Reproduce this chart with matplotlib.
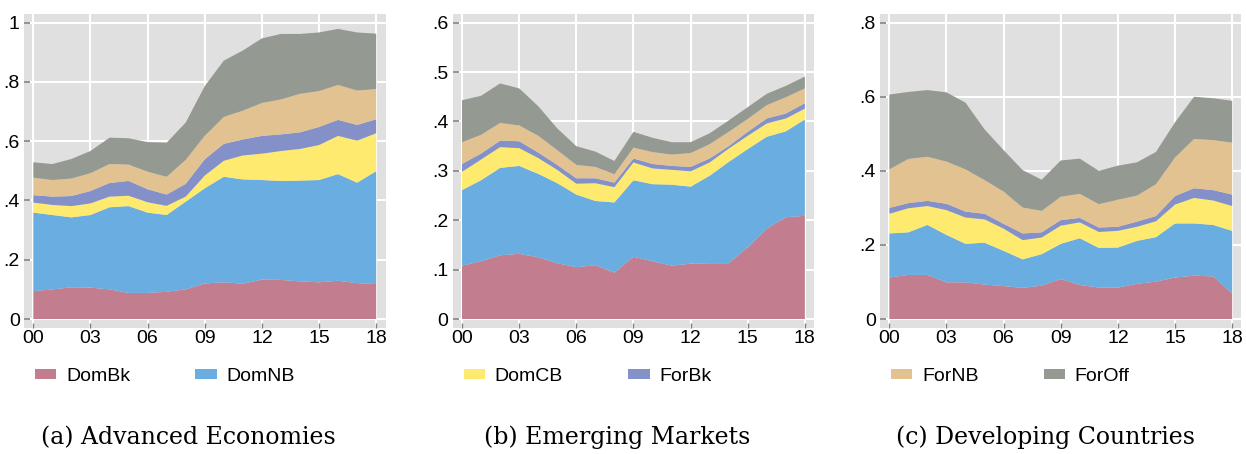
import numpy as np
import matplotlib
matplotlib.use("Agg")
import matplotlib.pyplot as plt
from matplotlib.patches import Patch

plt.rcParams['font.family'] = ['Liberation Sans', 'DejaVu Sans']

years = np.arange(0, 19)
xtick_years = [0, 3, 6, 9, 12, 15, 18]
xtick_labels = ["00", "03", "06", "09", "12", "15", "18"]

series_names = ["DomBk", "DomNB", "DomCB", "ForBk", "ForNB", "ForOff"]
colors = ["#C27E8E", "#6AADE0", "#FFEA70", "#8391C8", "#E2C291", "#949991"]

# (a) Advanced Economies
adv_dombk = [.094, .100, .107, .106, .100, .088, .088, .092, .100, .120, .124, .119, .133, .132, .127, .124, .129, .121, .118]
adv_domnb = [.265, .251, .236, .245, .277, .293, .271, .259, .296, .321, .356, .352, .336, .334, .340, .345, .360, .339, .381]
adv_domcb = [.034, .034, .038, .039, .036, .035, .035, .031, .017, .043, .054, .081, .089, .101, .107, .118, .129, .142, .128]
adv_forbk = [.025, .028, .034, .042, .046, .050, .044, .038, .043, .055, .057, .054, .060, .056, .056, .061, .054, .053, .047]
adv_fornb = [.059, .056, .059, .060, .064, .055, .059, .060, .081, .079, .091, .097, .111, .118, .130, .121, .118, .116, .102]
adv_foroff = [.052, .054, .066, .075, .089, .089, .100, .115, .126, .168, .190, .203, .218, .221, .202, .198, .189, .196, .187]

# (b) Emerging Markets
em_dombk = [.108, .117, .129, .132, .125, .113, .105, .109, .094, .126, .117, .108, .112, .113, .113, .145, .183, .206, .209]
em_domnb = [.153, .164, .177, .178, .169, .162, .147, .130, .142, .155, .156, .164, .156, .177, .205, .199, .186, .174, .195]
em_domcb = [.037, .042, .042, .036, .032, .027, .022, .036, .031, .036, .032, .030, .031, .027, .027, .027, .027, .026, .022]
em_forbk = [.016, .012, .013, .014, .011, .010, .011, .010, .009, .008, .009, .008, .009, .008, .005, .008, .010, .010, .011]
em_fornb = [.044, .038, .036, .032, .034, .030, .027, .023, .017, .022, .024, .023, .028, .029, .029, .026, .027, .033, .030]
em_foroff = [.085, .079, .080, .075, .060, .044, .038, .031, .027, .032, .029, .025, .022, .022, .023, .024, .023, .023, .024]

# (c) Developing Countries
dev_dombk = [.112, .119, .119, .099, .099, .093, .089, .084, .090, .108, .092, .085, .085, .095, .101, .112, .117, .115, .069]
dev_domnb = [.119, .115, .135, .128, .104, .113, .095, .077, .085, .095, .126, .107, .108, .116, .120, .146, .141, .139, .169]
dev_domcb = [.053, .065, .051, .067, .071, .063, .060, .052, .045, .049, .043, .043, .045, .038, .043, .051, .069, .066, .067]
dev_forbk = [.016, .014, .014, .017, .016, .015, .013, .018, .014, .015, .012, .012, .011, .014, .014, .023, .026, .028, .031]
dev_fornb = [.104, .119, .119, .114, .114, .091, .087, .070, .058, .063, .065, .063, .073, .070, .086, .104, .133, .135, .140]
dev_foroff = [.202, .181, .180, .187, .180, .137, .112, .101, .084, .098, .095, .090, .092, .090, .087, .095, .114, .113, .113]

panels = [
    ([adv_dombk, adv_domnb, adv_domcb, adv_forbk, adv_fornb, adv_foroff],
     [0, .2, .4, .6, .8, 1], ["0", ".2", ".4", ".6", ".8", "1"], 1.0,
     "(a) Advanced Economies", [0, 1]),
    ([em_dombk, em_domnb, em_domcb, em_forbk, em_fornb, em_foroff],
     [0, .1, .2, .3, .4, .5, .6], ["0", ".1", ".2", ".3", ".4", ".5", ".6"], 0.6,
     "(b) Emerging Markets", [2, 3]),
    ([dev_dombk, dev_domnb, dev_domcb, dev_forbk, dev_fornb, dev_foroff],
     [0, .2, .4, .6, .8], ["0", ".2", ".4", ".6", ".8"], 0.8,
     "(c) Developing Countries", [4, 5]),
]

W, H = 1246, 454
fig = plt.figure(figsize=(W / 100, H / 100), dpi=100)

ax_left = [24, 452.7, 880]
ax_w = 361.5
ax_top, ax_bot = 14, 327.7
caption_x = [188, 617, 1045]
fs = 14

for i, (vals, yt, ytl, ymax, caption, leg_idx) in enumerate(panels):
    ax = fig.add_axes([ax_left[i] / W, 1 - ax_bot / H, ax_w / W, (ax_bot - ax_top) / H])
    ax.set_facecolor("#E0E0E0")
    ax.stackplot(years, *vals, colors=colors, linewidth=0)
    ym = ymax * 0.0293
    ax.set_ylim(-ym, ymax + ym)
    ax.set_xlim(-0.49, 18.49)
    ax.set_xticks(xtick_years)
    ax.set_xticklabels(xtick_labels)
    ax.set_yticks(yt)
    ax.set_yticklabels(ytl)
    for s in ax.spines.values():
        s.set_visible(False)
    ax.set_axisbelow(True)
    ax.grid(True, color="white", linewidth=1.5)
    ax.tick_params(axis="y", direction="in", length=4.5, width=1.2, color="#808080",
                   labelsize=fs, pad=3)
    ax.tick_params(axis="x", direction="in", length=3.5, width=1.0, color="#808080",
                   labelsize=fs, pad=2)

    handles = [Patch(facecolor=colors[j], edgecolor="none", label=series_names[j]) for j in leg_idx]
    fig.legend(handles=handles, ncol=2, frameon=False, fontsize=fs,
               loc="center left", bbox_to_anchor=((ax_left[i] + 11) / W, 1 - 376.5 / H),
               handlelength=1.1, handleheight=0.42, handletextpad=0.5,
               columnspacing=3.35, borderpad=0, borderaxespad=0)

    fig.text(caption_x[i] / W, 1 - 444 / H, caption, ha="center", va="baseline",
             family="DejaVu Serif", fontsize=17)

fig.savefig("out.png", dpi=100)
